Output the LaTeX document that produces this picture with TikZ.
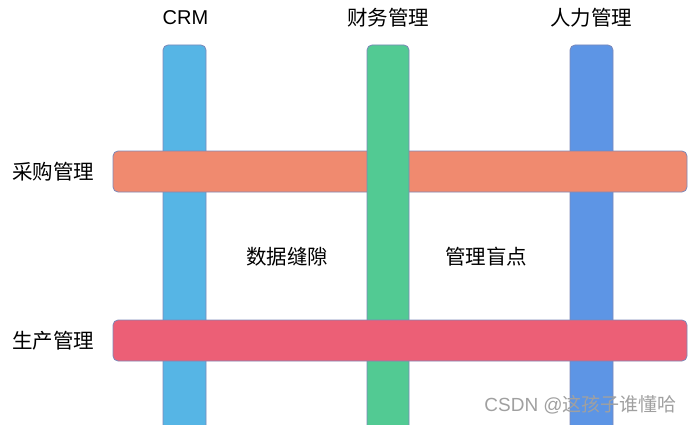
\documentclass[tikz,border=0pt]{standalone}
\usepackage{fontspec}
\setmainfont{Liberation Sans}
\newfontfamily\cjk{Noto Sans CJK SC}
\definecolor{cblue}{HTML}{56B5E5}
\definecolor{cgreen}{HTML}{52CA93}
\definecolor{cblue2}{HTML}{5D95E5}
\definecolor{corange}{HTML}{F08A6F}
\definecolor{cred}{HTML}{EC5F76}
\definecolor{edgec}{HTML}{7C88B8}
\definecolor{wm}{HTML}{A0A0A0}
\begin{document}
\begin{tikzpicture}[x=1pt,y=-1pt,
  bar/.style={draw=edgec,line width=0.8pt,rounded corners=5pt},
  lbl/.style={font=\cjk\fontsize{20.5}{22}\selectfont,inner sep=0pt}]
\useasboundingbox (0,0) rectangle (693,425);
\clip (0,0) rectangle (693,425);
% vertical bars (lower layer)
\draw[bar,fill=cblue] (163,45) rectangle (206,440);
\draw[bar,fill=cblue2] (570,45) rectangle (613,440);
% orange bar
\draw[bar,fill=corange] (113,151) rectangle (687,192);
% green bar over orange
\draw[bar,fill=cgreen] (367,45) rectangle (409,440);
% red bar over all
\draw[bar,fill=cred] (113,320) rectangle (687,361);
% labels
\node[lbl] (crm) at (185.5,18) {\fontsize{20}{22}\selectfont\rmfamily CRM};
\node[lbl] (cw) at (388,18) {财务管理};
\node[lbl] (rl) at (591,18) {人力管理};
\node[lbl,anchor=west] (cg) at (12,172) {采购管理};
\node[lbl,anchor=west] (sc) at (12,341) {生产管理};
\node[lbl] (sj) at (287,257) {数据缝隙};
\node[lbl] (gl) at (486,257) {管理盲点};
\node[font=\cjk\fontsize{19}{21}\selectfont,text=wm,inner sep=0pt,anchor=east] (wmk) at (677,405) {{\rmfamily CSDN @}这孩子谁懂哈};
\end{tikzpicture}
\end{document}
